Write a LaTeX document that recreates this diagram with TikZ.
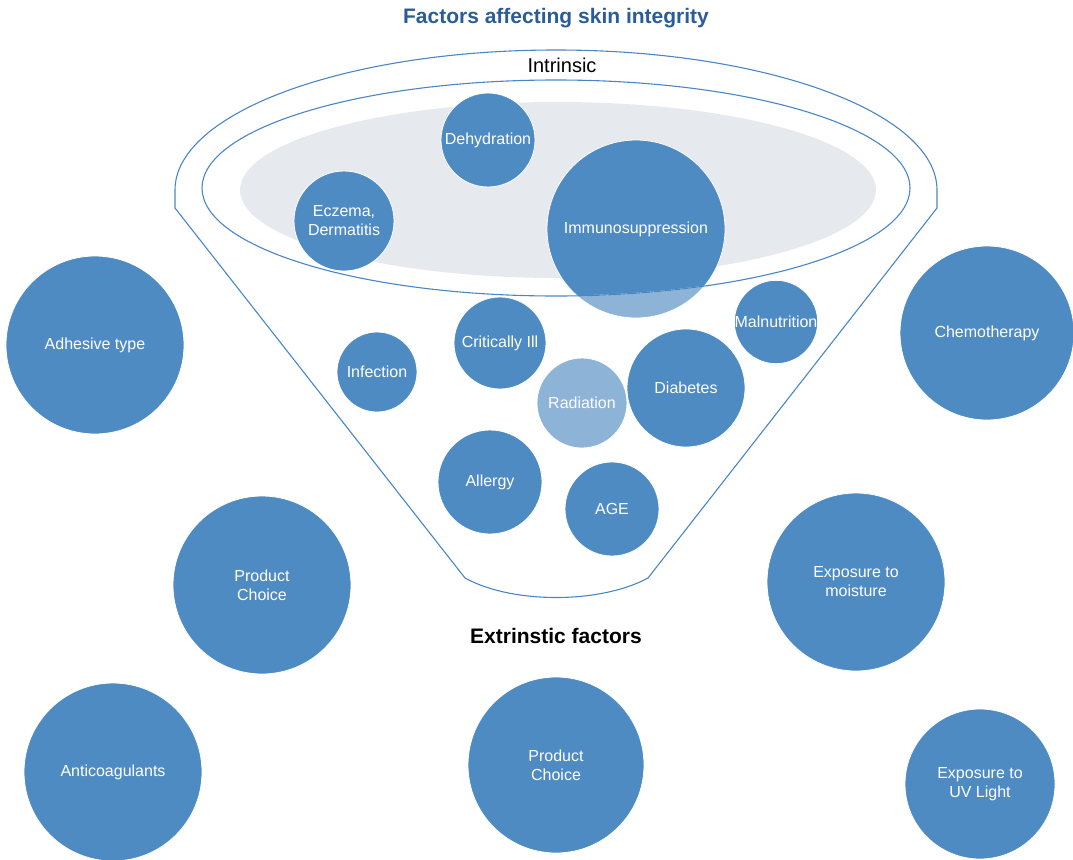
\documentclass[tikz,border=0pt]{standalone}
\usepackage{fontspec}
\setmainfont{Liberation Sans}
\definecolor{bubble}{HTML}{4F8BC3}
\definecolor{bubblelight}{HTML}{8DB3D7}
\definecolor{funnelline}{HTML}{4A86C5}
\definecolor{innerfill}{HTML}{E6E9EE}
\definecolor{titleblue}{HTML}{2B5C98}
\tikzset{
  bubble/.style={circle, fill=bubble, draw=white, line width=0.8pt, inner sep=0pt,
    align=center, text=white, font=\fontsize{16}{19}\selectfont, minimum size=#1},
  funnel/.style={draw=funnelline, line width=1.1pt}
}
\begin{document}
\begin{tikzpicture}[x=1pt, y=-1pt]
  \useasboundingbox (0,0) rectangle (1073,859);
  % titles
  \node[font=\bfseries\fontsize{21}{24}\selectfont, text=titleblue] (title) at (556,18) {Factors affecting skin integrity};
  \node[font=\fontsize{20}{24}\selectfont] (intrinsic) at (562,65) {Intrinsic};
  \node[font=\bfseries\fontsize{21}{24}\selectfont] (extrinsic) at (556,636) {Extrinstic factors};
  % funnel
  \coordinate (innerc) at (556,188);
  \draw[funnel] (175,190) arc[start angle=180, end angle=0, x radius=381pt, y radius=140pt]
    -- (937,208) -- (648,578) .. controls (600,604) and (512,604) .. (465,578) -- (175,208) -- cycle;
  \fill[innerfill] (558,190) ellipse [x radius=318pt, y radius=88pt];
  \node[bubble=178pt, fill=bubblelight,
    path picture={\fill[bubble] (innerc) ellipse [x radius=354pt, y radius=108pt];}] (immuno) at (636,229) {Immunosuppression};
  \draw[funnel] (innerc) ellipse [x radius=354pt, y radius=108pt];
  % intrinsic factors
  \node[bubble=94pt] (dehydration) at (488,140) {Dehydration};
  \node[bubble=100pt] (eczema) at (344,221) {Eczema,\\Dermatitis};
  \node[bubble=80pt] (infection) at (377,372) {Infection};
  \node[bubble=92pt] (critical) at (500,343) {Critically Ill};
  \node[bubble=82pt] (malnutrition) at (776,322) {Malnutrition};
  \node[bubble=90pt, fill=bubblelight] (radiation) at (582,403) {Radiation};
  \node[bubble=118pt] (diabetes) at (686,388) {Diabetes};
  \node[bubble=104pt] (allergy) at (490,482) {Allergy};
  \node[bubble=94pt] (age) at (612,509) {AGE};
  % extrinsic factors
  \node[bubble=178pt] (adhesive) at (95,345) {Adhesive type};
  \node[bubble=174pt] (chemo) at (987,333) {Chemotherapy};
  \node[bubble=178pt] (product1) at (262,585) {Product\\Choice};
  \node[bubble=178pt] (moisture) at (856,582) {Exposure to\\moisture};
  \node[bubble=178pt] (anticoag) at (113,772) {Anticoagulants};
  \node[bubble=176pt] (product2) at (556,765) {Product\\Choice};
  \node[bubble=150pt] (uvlight) at (980,784) {Exposure to\\UV Light};
\end{tikzpicture}
\end{document}
